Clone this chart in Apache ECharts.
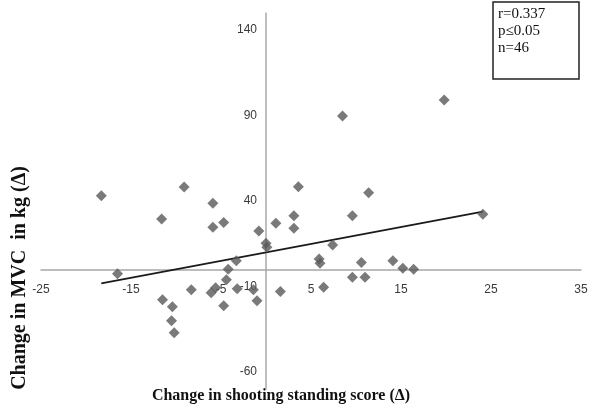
<!DOCTYPE html>
<html>
<head>
<meta charset="utf-8">
<script src="https://cdn.jsdelivr.net/npm/echarts@6/dist/echarts.min.js"></script>
<style>
  html, body { margin: 0; padding: 0; background: #ffffff; }
  #chart { width: 595px; height: 412px; }
</style>
</head>
<body>
<div id="chart"></div>
<script>
// Change in shooting standing score (x) vs change in MVC (y), one diamond per athlete
const shootingChange = [
  -18.3, -16.5, -11.6, -9.1, -11.5, -10.4, -10.5, -10.2, -8.3, -5.9,
  -5.9, -4.7, -6.1, -5.6, -4.7, -4.2, -4.4, -3.3, -3.2, -0.8,
  -1.4, -1.0, 0.0, 0.1,
  1.1, 3.6, 3.1, 3.1, 7.4, 5.9, 6.0, 9.6, 11.4, 10.6,
  9.6, 11.0, 1.6, 6.4, 8.5, 19.8, 24.1, 14.1, 15.2, 16.4
];
const mvcChange = [
  43.0, -2.6, 29.5, 48.2, -17.8, -21.9, -30.1, -37.1, -12.0, 38.7,
  24.7, 27.4, -13.7, -10.8, -21.3, 0.0, -6.1, 5.0, -11.4, 22.5,
  -12.0, -18.4, 15.3, 13.0,
  27.0, 48.4, 31.3, 24.1, 14.3, 6.0, 3.6, 31.3, 44.9, 4.0,
  -4.6, -4.6, -13.0, -10.4, 89.8, 99.1, 32.3, 5.1, 0.7, 0.1
];

// Linear trend line end points
const trendX = [-18.3, 24.1];
const trendY = [-8.2, 33.8];

// Tick labels
const xTicks = [-25, -15, -5, 5, 15, 25, 35];
const yTicks = [-60, -10, 40, 90, 140];

const statsLines = ['r=0.337', 'p\u22640.05', 'n=46'];
const xTitle = 'Change in shooting standing score (\u0394)';
const yTitle = 'Change in MVC  in kg (\u0394)';

const points = shootingChange.map((x, i) => [x, mvcChange[i]]);
const trend = trendX.map((x, i) => [x, trendY[i]]);

// Plot geometry: the axes cross at (0, 0) inside the plot area
const gridLeft = 41, gridTop = 13, gridWidth = 540, gridHeight = 376;
const xMin = -25, xMax = 35, yMin = -70, yMax = 150;
const zeroX = gridLeft + (0 - xMin) / (xMax - xMin) * gridWidth;
const zeroY = gridTop + (yMax - 0) / (yMax - yMin) * gridHeight;
const yAxisOffset = -(zeroX - gridLeft);
const xAxisOffset = -(gridTop + gridHeight - zeroY);

const axisColor = '#a8a8a8';
const labelStyle = { color: '#3a3a3a', fontFamily: 'Liberation Sans', fontSize: 12 };

const chart = echarts.init(document.getElementById('chart'));
chart.setOption({
  animation: false,
  backgroundColor: '#ffffff',
  grid: { left: gridLeft, top: gridTop, width: gridWidth, height: gridHeight, containLabel: false },
  xAxis: {
    type: 'value',
    position: 'bottom',
    offset: xAxisOffset,
    min: xMin, max: xMax,
    axisLine: { onZero: false, lineStyle: { color: axisColor, width: 1.5 } },
    axisTick: { show: false },
    splitLine: { show: false },
    axisLabel: Object.assign({ margin: 14, customValues: xTicks }, labelStyle)
  },
  yAxis: {
    type: 'value',
    position: 'left',
    offset: yAxisOffset,
    min: yMin, max: yMax,
    axisLine: { onZero: false, lineStyle: { color: axisColor, width: 1.5 } },
    axisTick: { show: false },
    splitLine: { show: false },
    axisLabel: Object.assign({ margin: 9, customValues: yTicks }, labelStyle)
  },
  series: [
    {
      type: 'scatter',
      data: points,
      symbol: 'diamond',
      symbolSize: 11,
      itemStyle: { color: '#595959' },
      z: 3
    },
    {
      type: 'line',
      data: trend,
      symbol: 'none',
      lineStyle: { color: '#1a1a1a', width: 1.6 },
      z: 2
    }
  ],
  graphic: [
    {
      type: 'text',
      position: [281, 396],
      style: {
        text: xTitle,
        fill: '#111',
        font: 'bold 16px "Liberation Serif"',
        align: 'center',
        verticalAlign: 'middle'
      }
    },
    {
      type: 'text',
      position: [20, 278],
      rotation: Math.PI / 2,
      style: {
        text: yTitle,
        fill: '#111',
        font: 'bold 20px "Liberation Serif"',
        align: 'center',
        verticalAlign: 'middle'
      }
    },
    {
      type: 'rect',
      shape: { x: 493, y: 2, width: 86, height: 77 },
      style: { fill: '#ffffff', stroke: '#222', lineWidth: 1.5 }
    },
    {
      type: 'text',
      position: [498, 6],
      style: {
        text: statsLines.join('\n'),
        fill: '#111',
        font: '15px "Liberation Serif"',
        lineHeight: 17,
        verticalAlign: 'top'
      }
    }
  ]
});
</script>
</body>
</html>
